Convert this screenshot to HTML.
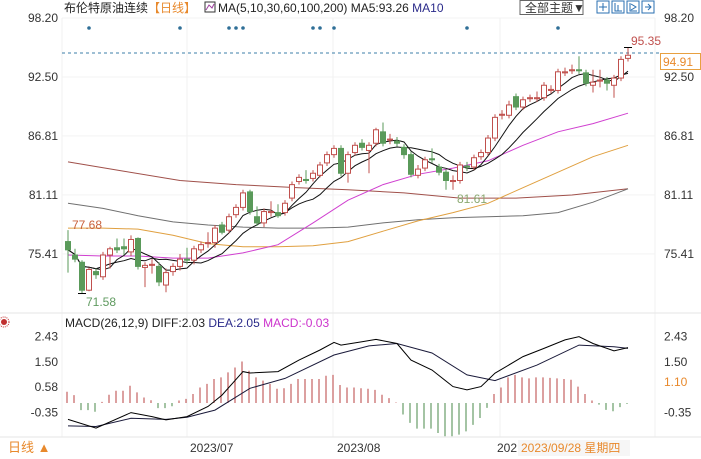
<!DOCTYPE html>
<html><head><meta charset="utf-8">
<style>
body{margin:0;background:#fff;width:701px;height:459px;overflow:hidden;font-family:"Liberation Sans","Noto Sans CJK SC",sans-serif}
svg{display:block}
text{font-family:"Liberation Sans","Noto Sans CJK SC",sans-serif}
</style></head>
<body>
<svg id="chart" width="701" height="459" viewBox="0 0 701 459" xmlns="http://www.w3.org/2000/svg">
  <rect x="0" y="0" width="701" height="459" fill="#fff"/>
  <g stroke="#f0f0f0" stroke-width="1">
    <line x1="62" y1="18" x2="62" y2="437"/>
    <line x1="187" y1="18" x2="187" y2="437"/>
    <line x1="333" y1="18" x2="333" y2="437"/>
    <line x1="500" y1="18" x2="500" y2="437"/>
    <line x1="655" y1="18" x2="655" y2="437"/>
    <line x1="0" y1="313" x2="701" y2="313" stroke="#e6e6e6"/>
    <line x1="0" y1="437" x2="701" y2="437" stroke="#e6e6e6"/>
  </g>
  <g id="yaxis" font-size="12" fill="#333"></g>
  <g id="dots"></g>
  <line x1="62" y1="53" x2="660" y2="53" stroke="#3d7fa8" stroke-dasharray="3,3"/>
  <g id="mas"></g>
  <g id="candles"></g>
  <g id="macd"></g>

  <text x="64" y="12" font-size="12" fill="#222">布伦特原油连续<tspan fill="#e8892c">【日线】</tspan></text>
  <g><rect x="205" y="2" width="10" height="10" fill="none" stroke="#333"/><polyline points="206,10 209,5 212,8 214,4" fill="none" stroke="#a040a0"/></g>
  <text x="218" y="12" font-size="12" fill="#222">MA(5,10,30,60,100,200)  MA5:93.26  <tspan fill="#2a2a8a">MA10</tspan></text>
  <g>
    <rect x="520" y="0.5" width="63" height="14" fill="#fff" stroke="#666"/>
    <text x="525" y="12" font-size="12" fill="#333">全部主题▼</text>
  </g>
  <g fill="none" stroke="#2a6fb0">
    <rect x="597" y="1" width="12" height="12"/><rect x="612" y="1" width="12" height="12"/>
    <rect x="627" y="1" width="12" height="12"/><rect x="642" y="1" width="12" height="12"/>
    <path d="M603 3v8M599 7h8M615 3v8h7M618 5v6M630 3v8h7M631 4l5 3-5 3M645 7h6M648 4l3 3-3 3"/>
  </g>

  <text x="631" y="45" font-size="12" fill="#c0504d">95.35</text>
  <g>
    <rect x="660.5" y="53.5" width="40" height="16" fill="#fff" stroke="#e8a040"/>
    <text x="663" y="66" font-size="12" fill="#e8892c">94.91</text>
  </g>
  <text x="72" y="229" font-size="12" fill="#c8603a">77.68</text>
  <text x="86" y="306" font-size="12" fill="#5f9a5f">71.58</text>
  <text x="457" y="203" font-size="12" fill="#8aa870">81.61</text>

  <g><circle cx="4" cy="322" r="3" fill="#c03030"/><circle cx="4" cy="322" r="5" fill="none" stroke="#c03030" stroke-dasharray="1,1"/></g>
  <text x="65" y="327" font-size="12" fill="#222">MACD(26,12,9) DIFF:2.03  <tspan fill="#2a2a8a">DEA:2.05</tspan>  <tspan fill="#cc33cc">MACD:-0.03</tspan></text>

  <g font-size="12" fill="#333">
    <text x="190" y="452">2023/07</text>
    <text x="337" y="452">2023/08</text>
    <text x="497" y="452">202</text>
  </g>
  <g><text x="8" y="452" font-size="13" fill="#e8892c">日线 ▲</text></g>
  <g>
    <rect x="518" y="440" width="112" height="16" fill="#f6f6f6"/>
    <text x="521" y="452" font-size="12" fill="#e8892c">2023/09/28 星期四</text>
  </g>
</svg>
<script>
// ===== data =====
const opens  = [76.6,75.3,74.6,71.9,73.7,73.2,75.3,76.0,76.1,75.6,76.9,74.1,74.3,74.2,72.4,73.7,74.2,74.9,74.8,75.8,76.4,76.5,78.2,77.7,79.2,79.9,81.4,79.0,78.4,79.4,79.4,79.4,80.8,82.4,82.6,82.7,83.0,84.2,85.0,85.6,83.2,85.2,86.1,85.4,86.1,87.2,86.4,86.3,85.7,85.0,83.0,83.7,84.6,83.8,83.3,82.4,82.5,83.9,83.8,84.8,85.2,86.6,88.8,88.8,90.6,89.6,90.4,90.4,90.5,91.2,91.2,92.9,93.1,93.2,92.9,91.7,92.1,92.2,91.7,92.4,94.3];
const closes = [75.8,74.9,71.9,73.9,73.4,75.3,75.9,75.8,75.9,76.8,74.2,74.3,74.4,72.7,73.6,74.2,74.9,74.8,75.9,76.3,76.5,77.9,77.5,79.0,79.9,81.3,79.5,78.4,79.5,79.5,79.1,80.3,82.1,82.8,82.5,83.2,84.0,85.0,85.6,83.2,85.0,85.9,85.7,85.9,87.4,86.1,86.5,86.1,85.0,83.1,83.6,84.5,84.5,83.3,82.5,82.5,84.0,83.8,84.7,85.2,86.6,88.6,88.9,89.8,89.6,90.3,90.5,90.5,91.7,91.3,93.0,93.0,93.2,93.1,91.9,92.0,92.2,91.9,92.4,94.2,94.6];
const highs  = [77.7,75.9,74.8,74.1,74.0,75.6,76.1,76.9,76.9,77.2,77.0,74.6,74.9,74.6,74.0,74.5,75.4,76.0,76.2,76.6,77.5,78.2,78.5,79.3,80.2,81.6,81.6,80.0,79.8,80.5,80.2,80.6,82.4,83.1,83.5,83.5,84.3,85.3,85.9,85.9,85.3,86.2,86.5,86.2,87.6,88.1,87.0,86.7,86.0,85.3,84.0,84.8,85.6,84.1,83.6,83.0,84.3,84.3,85.0,85.5,86.9,88.9,89.3,90.2,90.9,90.6,90.8,91.1,92.0,91.7,93.3,93.4,93.7,94.5,93.2,93.2,93.2,92.5,92.7,94.5,95.35];
const lows   = [73.6,74.6,71.58,71.8,73.0,72.9,74.0,75.5,75.3,75.2,73.9,72.2,73.5,72.3,71.7,73.3,73.8,74.4,74.4,75.5,76.0,76.0,77.3,77.4,78.9,79.6,79.2,78.1,78.0,79.0,78.9,79.1,80.5,82.1,82.2,82.4,82.8,83.9,84.7,82.9,82.3,84.9,85.4,83.2,85.8,85.8,86.0,85.8,84.6,82.8,82.7,83.4,84.2,83.0,81.6,81.61,82.2,83.4,83.5,84.5,84.9,86.3,88.4,88.5,89.3,89.3,90.1,90.1,90.2,90.9,90.9,92.6,92.8,92.8,91.6,91.0,91.5,91.2,90.5,92.1,94.0];
const priceTicks = [98.20,92.50,86.81,81.11,75.41];
// long moving averages (day index, value)
const ma30Idx = [0,5,10,15,20,25,30,35,40,45,50,55,60,65,70,75,80];
const ma30Val = [75.3,75.2,75.2,75.0,75.0,75.5,76.3,78.4,80.6,82.1,83.1,83.7,84.4,85.9,87.2,88.0,89.0];
const ma60Idx = [0,5,10,15,20,25,30,35,40,45,50,55,60,65,70,75,80];
const ma60Val = [77.9,77.9,77.8,77.2,76.4,76.1,76.1,76.2,76.6,77.6,78.6,79.4,80.3,81.8,83.3,84.8,85.9];
const ma100Idx = [0,5,10,15,20,25,30,35,40,45,50,55,60,65,70,75,80];
const ma100Val = [80.3,79.8,79.1,78.5,78.2,78.0,77.9,77.9,78.0,78.4,78.7,78.9,79.0,79.1,79.4,80.4,81.7];
const ma200Idx = [0,8,16,24,33,40,48,56,64,72,80];
const ma200Val = [84.3,83.4,82.5,82.1,81.8,81.6,81.3,80.8,80.8,81.1,81.7];
const eventDays = [3,16,23,24,25,35,36,38,57,70];
// MACD
const macdHist = [0.41,0.29,-0.26,-0.26,-0.32,0.04,0.30,0.45,0.45,0.63,
0.39,0.20,0.10,-0.19,-0.19,-0.12,0.09,0.15,0.33,0.57,
0.70,0.88,0.94,1.12,1.30,1.52,1.18,0.94,0.82,0.70,
0.52,0.54,0.70,0.88,0.88,0.88,0.88,1.00,1.03,0.66,
0.57,0.57,0.54,0.52,0.48,0.30,0.18,0.02,-0.42,-0.73,
-0.94,-0.94,-0.94,-1.10,-1.22,-1.22,-1.16,-1.04,-0.80,-0.55,
-0.18,0.33,0.57,0.94,1.03,0.94,0.90,0.94,0.94,0.92,
0.90,0.88,0.85,0.60,0.33,0.09,-0.06,-0.25,-0.30,-0.15,-0.03];
const diffIdx = [0,4,9,12,14,17,20,22,25,26,30,33,36,38,39,42,44,47,49,52,55,57,59,61,65,68,71,73,75,78,80];
const diffVal = [-0.6,-0.92,-0.35,-0.5,-0.62,-0.5,-0.13,0.29,1.15,1.1,1.15,1.57,1.94,2.22,2.12,2.24,2.33,2.18,1.57,1.21,0.6,0.48,0.6,1.09,1.7,2.0,2.31,2.43,2.18,1.91,2.03];
const deaIdx = [0,4,9,14,17,21,26,31,38,43,47,52,57,61,67,73,78,80];
const deaVal = [-0.84,-0.86,-0.56,-0.6,-0.52,-0.26,0.54,0.9,1.76,2.09,2.18,1.83,1.03,0.82,1.39,2.12,2.06,2.0];
const macdTicks = [2.43,1.50,0.58,-0.35];
const macdRightTicks = [2.43,1.50,-0.35];

// ===== scales =====
const NS='http://www.w3.org/2000/svg';
const xS = i => 68 + i*7.0;
const yP = v => 18 + (98.2 - v)*10.35;
const yM = v => 403 - v*27.3;
function mk(tag, attrs, parent){const e=document.createElementNS(NS,tag);for(const k in attrs)e.setAttribute(k,attrs[k]);parent.appendChild(e);return e;}

const yaxis=document.getElementById('yaxis');
priceTicks.forEach(t=>{
  const a=mk('text',{x:58,y:yP(t)+4,'text-anchor':'end'},yaxis);a.textContent=t.toFixed(2);
  
  
  const b=mk('text',{x:664,y:yP(t)+4},yaxis);b.textContent=t.toFixed(2);
  
  
  mk('line',{x1:62,x2:655,y1:yP(t),y2:yP(t),stroke:'#f3f3f3'},yaxis);
});

const dots=document.getElementById('dots');
eventDays.forEach(d=>{
  const c=mk('circle',{cx:xS(d),cy:28,r:1.8,fill:'#2f6f97'},dots);
  
  
});

const mas=document.getElementById('mas');
function line(idx,vals,sc,color,name,parent,w){
  const pts=idx.map((d,k)=>xS(d).toFixed(1)+','+sc(vals[k]).toFixed(1)).join(' ');
  const p=mk('polyline',{points:pts,fill:'none',stroke:color,'stroke-width':w||1},parent);
  
  
}
line(ma200Idx,ma200Val,yP,'#a0504a','ma200-line',mas);
line(ma100Idx,ma100Val,yP,'#707070','ma100-line',mas);
line(ma60Idx,ma60Val,yP,'#e0a040','ma60-line',mas);
line(ma30Idx,ma30Val,yP,'#d040d0','ma30-line',mas);
function sma(n){return closes.map((c,i)=>{const s=closes.slice(Math.max(0,i-n+1),i+1);return s.reduce((a,b)=>a+b,0)/s.length;});}
const allIdx=closes.map((c,i)=>i);
line(allIdx,sma(10),yP,'#111','ma10-line',mas);
line(allIdx,sma(5),yP,'#111','ma5-line',mas);

const cg=document.getElementById('candles');
closes.forEach((c,i)=>{
  const o=opens[i],up=c>=o,col=up?'#c0504d':'#5a9a5a';
  const x=xS(i);
  const g=mk('g',{},cg);
  
  
  const top=yP(Math.max(o,c)),bot=yP(Math.min(o,c));
  mk('line',{x1:x,x2:x,y1:yP(highs[i]),y2:top,stroke:col},g);
  mk('line',{x1:x,x2:x,y1:bot,y2:yP(lows[i]),stroke:col},g);
  mk('rect',{x:x-2.5,y:top,width:5,height:Math.max(1,bot-top),fill:up?'#fff':col,stroke:col,'stroke-width':1},g);
});
const hiI=highs.indexOf(Math.max(...highs)), loI=lows.indexOf(Math.min(...lows));
mk('path',{d:`M${xS(hiI)-4} ${yP(highs[hiI])}h8`,stroke:'#000'},cg);
mk('path',{d:`M${xS(loI)-4} ${yP(lows[loI])}h8`,stroke:'#000'},cg);

const mg=document.getElementById('macd');
macdTicks.forEach(t=>{
  const a=mk('text',{x:58,y:yM(t)+4,'text-anchor':'end','font-size':12,fill:'#333'},mg);a.textContent=t.toFixed(2);
  
  
});
macdRightTicks.forEach(t=>{
  const b=mk('text',{x:664,y:yM(t)+4,'font-size':12,fill:'#333'},mg);b.textContent=t.toFixed(2);
  
  
});
const lab=mk('text',{x:664,y:386,'font-size':12,fill:'#e8892c'},mg);lab.textContent='1.10';


macdHist.forEach((v,i)=>{
  const l=mk('line',{x1:xS(i)-1,x2:xS(i)-1,y1:yM(0),y2:yM(v),stroke:v>=0?'#b84040':'#4a8a4a'},mg);
  
  
});
line(deaIdx,deaVal,yM,'#1a1a3a','dea-line',mg);
line(diffIdx,diffVal,yM,'#000','diff-line',mg);
</script>
</body></html>
